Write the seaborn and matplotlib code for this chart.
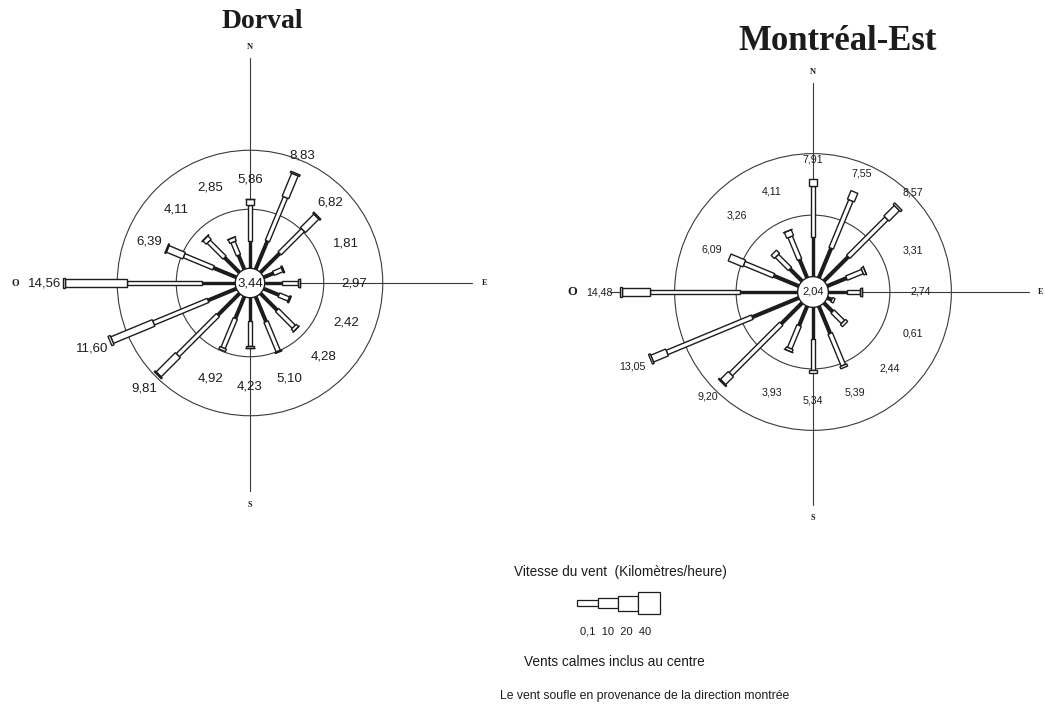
import numpy as np
import matplotlib
matplotlib.use("Agg")
import matplotlib.pyplot as plt
from matplotlib.patches import Polygon, Circle
import seaborn as sns

# ---------------------------------------------------------------- data
directions = ["N", "NNE", "NE", "ENE", "E", "ESE", "SE", "SSE",
              "S", "SSW", "SW", "WSW", "W", "WNW", "NW", "NNW"]
speed_class_labels = ["0,1", "10", "20", "40"]

# Dorval: frequency (%) per direction, and the share of the three lower speed classes
dorval_total = [5.86, 8.83, 6.82, 1.81, 2.97, 2.42, 4.28, 5.10,
                4.23, 4.92, 9.81, 11.60, 14.56, 6.39, 4.11, 2.85]
dorval_0_10 = [2.3, 2.6, 2.3, 0.9, 1.5, 1.4, 2.0, 2.3,
               2.0, 2.0, 2.6, 2.6, 2.8, 2.1, 1.8, 1.3]
dorval_10_20 = [3.1, 4.0, 2.8, 0.8, 1.3, 0.9, 2.0, 2.7,
                2.1, 2.7, 4.8, 5.0, 6.4, 2.7, 1.9, 1.2]
dorval_20_40 = [0.46, 2.1, 1.6, 0.11, 0.17, 0.12, 0.28, 0.10,
                0.13, 0.22, 2.3, 3.8, 5.2, 1.5, 0.41, 0.35]
dorval_calm = 3.44

# Montréal-Est
mtl_total = [7.91, 7.55, 8.57, 3.31, 2.74, 0.61, 2.44, 5.39,
             5.34, 3.93, 9.20, 13.05, 14.48, 6.09, 3.26, 4.11]
mtl_0_10 = [3.2, 2.6, 2.8, 1.7, 1.5, 0.4, 1.0, 2.4,
            2.6, 1.7, 2.4, 4.1, 4.7, 2.2, 1.4, 1.6]
mtl_10_20 = [4.2, 4.2, 4.4, 1.4, 1.1, 0.21, 1.2, 2.8,
             2.5, 2.0, 5.8, 7.5, 7.3, 2.6, 1.5, 2.0]
mtl_20_40 = [0.51, 0.75, 1.2, 0.21, 0.14, 0.0, 0.24, 0.19,
             0.24, 0.23, 0.9, 1.3, 2.3, 1.29, 0.36, 0.51]
mtl_calm = 2.04

# ---------------------------------------------------------------- style
sns.set_theme(style="white")
plt.rcParams["font.family"] = ["Liberation Sans", "DejaVu Sans"]

INK = "#1c1c1c"
R0 = 1.25                                  # radius of the calm circle
CLASS_WIDTHS = [0.22, 0.38, 0.60, 0.85]    # bar thickness for each speed class

W, H = 1045, 704
fig = plt.figure(figsize=(W / 100, H / 100), dpi=100)
fig.patch.set_facecolor("white")


def fmt(v):
    return f"{v:.2f}".replace(".", ",")


def px_axes(x0, y0, x1, y1):
    """Axes covering a pixel box of the figure (y measured from the top)."""
    return fig.add_axes([x0 / W, 1 - y1 / H, (x1 - x0) / W, (y1 - y0) / H])


def bar_segment(ax, theta, r1, r2, width, filled):
    u = np.array([np.sin(theta), np.cos(theta)])
    p = np.array([np.cos(theta), -np.sin(theta)]) * width / 2
    pts = [r1 * u + p, r2 * u + p, r2 * u - p, r1 * u - p]
    ax.add_patch(Polygon(pts, closed=True,
                         facecolor=INK if filled else "white",
                         edgecolor=INK, lw=1.0, zorder=3))


def draw_rose(ax, total, c1, c2, c3, calm, label_size, calm_size,
              arms, cards, o_size):
    ax.set_aspect("auto")
    ax.axis("off")
    # reference circles at 5 % and 10 %
    for ring in (5, 10):
        ax.add_patch(Circle((0, 0), R0 + ring, fill=False, ec="#3a3a3a",
                            lw=0.8, zorder=1))
    # compass cross (arm lengths: N, E, S, W)
    n, e, s, w = arms
    sns.lineplot(x=np.array([-w, e]), y=np.zeros(2), ax=ax, color="#3a3a3a",
                 lw=0.8, zorder=1, legend=False)
    ax.plot(np.zeros(2), np.array([-s, n]), color="#3a3a3a", lw=0.8, zorder=1)
    cn, ce, cs, cw = cards
    for name, (x, y), fs in (("N", (0, cn), 6), ("S", (0, -cs), 6),
                             ("E", (ce, 0), 6), ("O", (-cw, 0), o_size)):
        ax.text(x, y, name, ha="center", va="center",
                fontsize=fs, fontweight="bold", family="Liberation Serif",
                color=INK, zorder=5)

    for i, tot in enumerate(total):
        theta = np.deg2rad(22.5 * i)
        top = max(tot - c1[i] - c2[i] - c3[i], 0.0)
        parts = [c1[i], c2[i], c3[i], top]
        r = R0
        for k, v in enumerate(parts):
            if v <= 0:
                continue
            bar_segment(ax, theta, r, r + v, CLASS_WIDTHS[k], filled=(k == 0))
            r += v
        lr = max(R0 + tot + 1.6, 8.8)
        ax.text(lr * np.sin(theta), lr * np.cos(theta), fmt(tot),
                ha="center", va="center", fontsize=label_size, color=INK,
                zorder=5)

    ax.add_patch(Circle((0, 0), R0, fc="white", ec=INK, lw=1.0, zorder=4))
    ax.text(0, 0, fmt(calm), ha="center", va="center", fontsize=calm_size,
            color=INK, zorder=5)


def set_frame(ax, box, center, scale):
    x0, y0, x1, y1 = box
    cx, cy = center
    ax.set_xlim((x0 - cx) / scale, (x1 - cx) / scale)
    ax.set_ylim((cy - y1) / scale, (cy - y0) / scale)


# ---------------------------------------------------------------- Dorval
box_d = (0, 30, 520, 560)
ax_d = px_axes(*box_d)
draw_rose(ax_d, dorval_total, dorval_0_10, dorval_10_20, dorval_20_40,
          dorval_calm, label_size=9.5, calm_size=9.5,
          arms=(19.1, 18.8, 17.6, 15.5), cards=(20.0, 19.9, 18.8, 19.9),
          o_size=7)
set_frame(ax_d, box_d, (250, 283), 11.8)

# ---------------------------------------------------------------- Montréal-Est
box_m = (530, 30, 1045, 560)
ax_m = px_axes(*box_m)
draw_rose(ax_m, mtl_total, mtl_0_10, mtl_10_20, mtl_20_40,
          mtl_calm, label_size=7.7, calm_size=8,
          arms=(17.0, 17.6, 17.3, 16.5), cards=(17.9, 18.5, 18.4, 19.6),
          o_size=9)
set_frame(ax_m, box_m, (813, 292), 12.3)

# ---------------------------------------------------------------- titles
fig.text(262 / W, 1 - 22 / H, "Dorval", ha="center", va="center",
         fontsize=20, fontweight="bold", family="Liberation Serif", color=INK)
fig.text(838 / W, 1 - 42 / H, "Montréal-Est", ha="center", va="center",
         fontsize=25, fontweight="bold", family="Liberation Serif", color=INK)

# ---------------------------------------------------------------- key
fig.text(620 / W, 1 - 572 / H, "Vitesse du vent  (Kilomètres/heure)",
         ha="center", va="center", fontsize=9.8, color=INK)
ax_k = px_axes(575, 590, 665, 616)
ax_k.axis("off")
ax_k.set_xlim(0, 90)
ax_k.set_ylim(-13, 13)
seg_edges = [2, 23, 43, 63, 85]
for k, w in enumerate(CLASS_WIDTHS):
    h = w * 25
    ax_k.add_patch(Polygon([(seg_edges[k], -h / 2), (seg_edges[k + 1], -h / 2),
                            (seg_edges[k + 1], h / 2), (seg_edges[k], h / 2)],
                           closed=True, fc="white", ec=INK, lw=0.9))
fig.text(616 / W, 1 - 631 / H, "  ".join(speed_class_labels), ha="center",
         va="center", fontsize=8, color=INK)
fig.text(614 / W, 1 - 662 / H, "Vents calmes inclus au centre",
         ha="center", va="center", fontsize=9.8, color=INK)
fig.text(645 / W, 1 - 696 / H,
         "Le vent soufle en provenance de la direction montrée",
         ha="center", va="center", fontsize=8.8, color=INK)

fig.savefig("out.png", dpi=100, facecolor="white")
